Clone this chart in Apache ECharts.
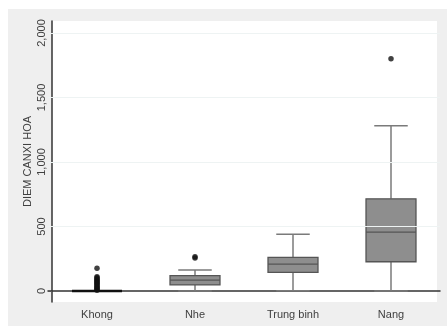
<!DOCTYPE html>
<html>
<head>
<meta charset="utf-8">
<script src="https://cdn.jsdelivr.net/npm/echarts@6/dist/echarts.min.js"></script>
<style>
html,body{margin:0;padding:0;background:#ffffff;}
#chart{width:447px;height:326px;}
</style>
</head>
<body>
<div id="chart"></div>
<script>
// Categories
var categories = ['Khong', 'Nhe', 'Trung binh', 'Nang'];
// Box statistics: lower whisker, Q1, median, Q3, upper whisker
var lowerWhisker = [0, 0, 2, 0];
var q1Values     = [0, 47, 145, 227];
var medianValues = [0, 85, 209, 457];
var q3Values     = [0, 119, 261, 715];
var upperWhisker = [0, 163, 440, 1281];
// Outliers per category
var khongOutliers = [6, 14, 22, 30, 38, 46, 54, 62, 70, 78, 86, 94, 102, 110, 176];
var nheOutliers = [256, 266];
var trungBinhOutliers = [];
var nangOutliers = [1800];
// Y axis ticks
var yTicks = [0, 500, 1000, 1500, 2000];
var yName = 'DIEM CANXI HOA';

var boxData = categories.map(function (c, i) {
  return [i, lowerWhisker[i], q1Values[i], medianValues[i], q3Values[i], upperWhisker[i]];
});
var outlierData = [];
[khongOutliers, nheOutliers, trungBinhOutliers, nangOutliers].forEach(function (arr, i) {
  arr.forEach(function (v) { outlierData.push([i, v]); });
});

var chart = echarts.init(document.getElementById('chart'), null, {renderer: 'canvas'});

function renderBox(params, api) {
  var idx = api.value(0);
  var pMin = api.coord([idx, api.value(1)]);
  var pQ1 = api.coord([idx, api.value(2)]);
  var pMed = api.coord([idx, api.value(3)]);
  var pQ3 = api.coord([idx, api.value(4)]);
  var pMax = api.coord([idx, api.value(5)]);
  var band = api.size([1, 0])[0];
  var bw = band * 0.51;
  var cw = bw * 0.67;
  var x = pMed[0];
  var whiskerStyle = {stroke: '#7a7a7a', lineWidth: 1.5};
  var collapsed = Math.abs(pQ3[1] - pQ1[1]) < 1;
  var children = [
    {type: 'line', shape: {x1: x, y1: pMax[1], x2: x, y2: pQ3[1]}, style: whiskerStyle},
    {type: 'line', shape: {x1: x, y1: pQ1[1], x2: x, y2: pMin[1]}, style: whiskerStyle},
    {type: 'line', shape: {x1: x - cw / 2, y1: pMax[1], x2: x + cw / 2, y2: pMax[1]}, style: whiskerStyle},
    {type: 'line', shape: {x1: x - cw / 2, y1: pMin[1], x2: x + cw / 2, y2: pMin[1]}, style: whiskerStyle},
    {type: 'rect', shape: {x: x - bw / 2, y: pQ3[1], width: bw, height: pQ1[1] - pQ3[1]},
      style: {fill: '#8e8e8e', stroke: '#555555', lineWidth: 1.3}},
    {type: 'line', shape: {x1: x - bw / 2, y1: pMed[1], x2: x + bw / 2, y2: pMed[1]},
      style: {stroke: collapsed ? '#111111' : '#555555', lineWidth: collapsed ? 2.5 : 1.3}}
  ];
  return {type: 'group', children: children};
}

var option = {
  animation: false,
  backgroundColor: '#ffffff',
  graphic: [
    {type: 'rect', left: 8, top: 9, shape: {width: 439, height: 317}, style: {fill: '#efefef'}, z: -10, silent: true},
    {type: 'rect', left: 52, top: 21, shape: {width: 385, height: 281}, style: {fill: '#ffffff'}, z: -9, silent: true}
  ],
  grid: {left: 48, right: 7, top: 21, bottom: 24, containLabel: false},
  xAxis: {
    type: 'category',
    data: categories,
    boundaryGap: true,
    axisLine: {show: true, lineStyle: {color: '#333333', width: 1.5}},
    axisTick: {show: false},
    axisLabel: {color: '#404040', fontSize: 11, fontFamily: 'Liberation Sans, Arial, sans-serif', margin: 7},
    splitLine: {show: false}
  },
  yAxis: {
    type: 'value',
    min: -85,
    max: 2093,
    offset: -4,
    name: yName,
    nameLocation: 'middle',
    nameRotate: 90,
    nameGap: 19,
    nameMoveOverlap: false,
    nameTextStyle: {color: '#404040', fontSize: 11, fontFamily: 'Liberation Sans, Arial, sans-serif'},
    axisLine: {show: true, lineStyle: {color: '#333333', width: 1.5}},
    axisTick: {show: true, length: 4, lineStyle: {color: '#555555'}, customValues: yTicks},
    axisLabel: {
      color: '#404040', fontSize: 11, fontFamily: 'Liberation Sans, Arial, sans-serif',
      rotate: 90, margin: 5, customValues: yTicks,
      formatter: function (v) { return v.toLocaleString('en-US'); }
    },
    splitLine: {show: false}
  },
  series: [
    {
      type: 'custom',
      renderItem: renderBox,
      data: boxData,
      encode: {x: 0, y: [1, 2, 3, 4, 5]},
      z: 2
    },
    {
      type: 'scatter',
      data: outlierData,
      symbol: 'circle',
      symbolSize: 5.5,
      itemStyle: {color: '#111111'},
      z: 3
    },
    {
      type: 'line',
      data: [],
      markLine: {
        silent: true,
        symbol: 'none',
        label: {show: false},
        lineStyle: {color: '#eef3f3', width: 1, type: 'solid'},
        data: yTicks.slice(1).map(function (v) { return {yAxis: v}; })
      },
      z: 0
    }
  ]
};
chart.setOption(option);
</script>
</body>
</html>
